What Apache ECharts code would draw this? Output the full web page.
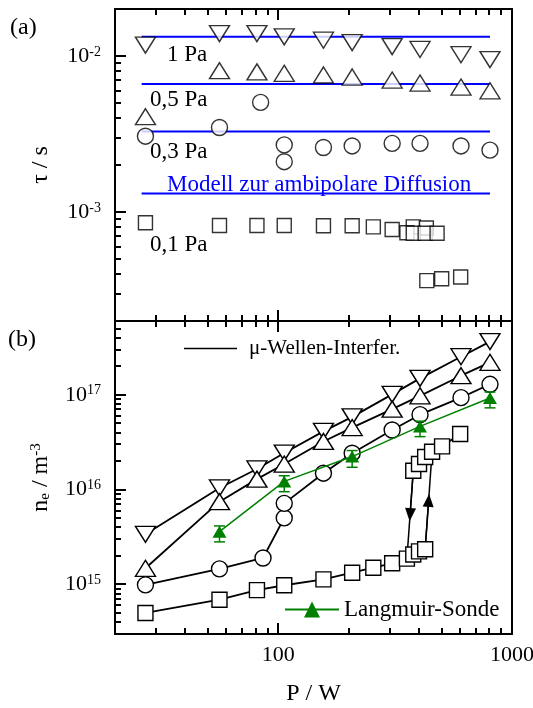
<!DOCTYPE html>
<html><head><meta charset="utf-8">
<script src="https://cdn.jsdelivr.net/npm/echarts@6/dist/echarts.min.js"></script>
<style>html,body{margin:0;padding:0;background:#fff}#c{width:533px;height:708px}</style>
</head><body><div id="c"></div>
<script>
// ---------- DATA ----------
// (a) decay time tau / s
const P_main = [27, 56, 81, 106, 156, 207, 307, 404, 605, 805];
const tau_1Pa  = [0.01173, 0.01391, 0.01391, 0.01325, 0.01262, 0.01218, 0.01148, 0.01101, 0.01019, 0.00947];
const tau_05Pa = [0.00408, 0.00804, 0.00791, 0.00774, 0.00755, 0.00733, 0.00701, 0.00670, 0.00632, 0.00598];
const P_tau03  = [27, 56, 84, 106, 106, 156, 207, 307, 404, 605, 805];
const tau_03Pa = [0.00306, 0.00348, 0.00504, 0.00269, 0.00210, 0.00259, 0.00265, 0.00275, 0.00275, 0.00265, 0.00249];
const P_tau01  = [27, 56, 81, 106, 156, 207, 255, 307, 378, 430, 355, 378, 425, 478, 432, 500, 603];
const tau_01Pa = [0.000852, 0.000818, 0.000818, 0.000818, 0.000815, 0.000815, 0.000803, 0.000772,
                  0.000803, 0.000790, 0.000735, 0.000730, 0.000730, 0.000730, 0.000363, 0.000373, 0.000383];
const modelP   = [26, 805];
const modelTau = [0.0133, 0.0066, 0.00328, 0.001315];
const pressureLabels = ['1 Pa', '0,5 Pa', '0,3 Pa', '0,1 Pa'];
const modelLabel = 'Modell zur ambipolare Diffusion';

// (b) electron density n_e / m^-3 (microwave interferometry)
const ne_1Pa  = [3.38e15, 1.04e16, 1.65e16, 2.43e16, 4.11e16, 5.85e16, 1.01e17, 1.49e17, 2.52e17, 3.64e17];
const ne_05Pa = [1.48e15, 7.46e15, 1.29e16, 1.86e16, 3.22e16, 4.51e16, 7.06e16, 9.75e16, 1.59e17, 2.20e17];
const P_ne03  = [27, 56, 86, 106, 106, 156, 207, 307, 404, 605, 805];
const ne_03Pa = [9.9e14, 1.46e15, 1.90e15, 5.03e15, 7.16e15, 1.49e16, 2.42e16, 4.25e16, 6.17e16, 9.33e16, 1.29e17];
const P_ne01low  = [27, 56, 81, 106, 156, 207, 255, 307, 355, 378, 400, 425];
const ne_01low   = [5.0e14, 6.9e14, 8.7e14, 9.8e14, 1.13e15, 1.33e15, 1.50e15, 1.67e15, 1.87e15, 2.07e15, 2.23e15, 2.35e15];
const P_ne01high = [378, 400, 425, 455, 502, 600];
const ne_01high  = [1.58e16, 1.86e16, 2.21e16, 2.51e16, 2.86e16, 3.86e16];
// Langmuir probe
const P_lang  = [56, 106, 207, 404, 805];
const ne_lang = [3.6e15, 1.22e16, 2.23e16, 4.64e16, 9.25e16];
const ne_langLow  = [2.81e15, 9.5e15, 1.72e16, 3.62e16, 7.28e16];
const ne_langHigh = [4.14e15, 1.40e16, 2.58e16, 5.27e16, 1.07e17];
const legendNames = ['μ-Wellen-Interfer.', 'Langmuir-Sonde'];
const xTickLabels = ['100', '1000'];

// ---------- HELPERS ----------
const FONT = '"Liberation Serif", "Times New Roman", serif';
const X_RANGE = [20, 1000], TAU_RANGE = [2e-4, 2e-2], NE_RANGE = [3e14, 6e17];
const zip = (xs, ys) => xs.map((x, i) => [x, ys[i]]);
const gmean = (a, b) => Math.sqrt(a * b);
function isPow10(v) { const e = Math.log10(v); return Math.abs(e - Math.round(e)) < 1e-6; }
function yLabel(v) { return isPow10(v) ? '{b|10}{s|' + Math.round(Math.log10(v)) + '}' : ''; }
function xLabel(v) { if (!isPow10(v)) return ''; const s = String(Math.round(v)); return xTickLabels.indexOf(s) >= 0 ? s : ''; }
function logTicks(range) {
  const out = [];
  for (let k = Math.floor(Math.log10(range[0])); k <= Math.ceil(Math.log10(range[1])); k++) {
    for (let m = 1; m <= 9; m++) {
      const v = m * Math.pow(10, k);
      if (v >= range[0] * 0.9999 && v <= range[1] * 1.0001) out.push([v, m === 1 ? 1 : 0]);
    }
  }
  return out;
}

const richY = {
  b: { fontSize: 22, fontFamily: FONT, color: '#000' },
  s: { fontSize: 14, fontFamily: FONT, color: '#000', verticalAlign: 'top' }
};
const AXLINE = { show: true, onZero: false, lineStyle: { color: '#000', width: 2 } };

function xAxisDef(gridIndex, position, labels) {
  const a = {
    type: 'log', gridIndex: gridIndex, position: position, min: X_RANGE[0], max: X_RANGE[1],
    axisLine: AXLINE, axisTick: { show: false }, minorTick: { show: false },
    splitLine: { show: false }, minorSplitLine: { show: false },
    axisLabel: { show: labels, formatter: xLabel, fontFamily: FONT, fontSize: 22, color: '#000', margin: 10 }
  };
  if (labels) {
    a.name = 'P / W'; a.nameLocation = 'middle'; a.nameGap = 48;
    a.nameTextStyle = { fontFamily: FONT, fontSize: 24, color: '#000' };
  }
  return a;
}
function yAxisDef(gridIndex, range, name, nameRich) {
  return {
    type: 'log', gridIndex: gridIndex, position: 'left', min: range[0], max: range[1],
    axisLine: AXLINE, axisTick: { show: false }, minorTick: { show: false },
    splitLine: { show: false }, minorSplitLine: { show: false },
    axisLabel: { formatter: yLabel, rich: richY, margin: 14, color: '#000' },
    name: name, nameLocation: 'middle', nameGap: 62,
    nameTextStyle: Object.assign({ fontFamily: FONT, fontSize: 24, color: '#000' }, nameRich ? { rich: nameRich } : {})
  };
}
function yFrameRight(gridIndex, range) {
  return { type: 'log', gridIndex: gridIndex, position: 'right', min: range[0], max: range[1],
    axisLine: AXLINE, axisTick: { show: false }, minorTick: { show: false }, axisLabel: { show: false },
    splitLine: { show: false } };
}

// tick marks as small filled rectangles, placed through the axes' own scales
function tickSeries(xIdx, yIdx, ticks, dir, other) {
  return {
    type: 'custom', name: 'ticks' + dir + xIdx, xAxisIndex: xIdx, yAxisIndex: yIdx, silent: true, z: 20, clip: false,
    data: ticks.map(t => dir === 'x' ? [t[0], other, t[1]] : [other, t[0], t[1]]),
    renderItem: function (params, api) {
      const cs = params.coordSys;
      const p = api.coord([api.value(0), api.value(1)]);
      const major = api.value(2) === 1;
      const len = major ? 11 : 6;
      const w = 2;
      const st = { fill: '#000' };
      if (dir === 'x') {
        const x = Math.round(p[0]) - 1;
        return { type: 'group', children: [
          { type: 'rect', shape: { x: x, y: cs.y, width: w, height: len }, style: { fill: '#000' } },
          { type: 'rect', shape: { x: x, y: cs.y + cs.height - len, width: w, height: len }, style: { fill: '#000' } }
        ] };
      }
      const y = Math.round(p[1]) - 1;
      return { type: 'rect', shape: { x: cs.x, y: y, width: len, height: w }, style: st };
    }
  };
}

const openSym = { color: '#fff', borderColor: '#000', borderWidth: 1.4 };
function scatterTop(name, data, symbol, size, rot) {
  return { type: 'scatter', name: name, xAxisIndex: 0, yAxisIndex: 0, data: data, symbol: symbol,
    symbolSize: size, symbolRotate: rot || 0, itemStyle: openSym, z: 5, silent: true };
}
function lineBottom(name, data, symbol, size, rot, extra) {
  return Object.assign({ type: 'line', name: name, xAxisIndex: 2, yAxisIndex: 1, data: data, symbol: symbol,
    symbolSize: size, symbolRotate: rot || 0, showAllSymbol: true, itemStyle: openSym,
    lineStyle: { color: '#000', width: 1.8 }, z: 5, silent: true }, extra || {});
}

const series = [];
modelTau.forEach((t, i) => {
  series.push({ type: 'line', name: 'model' + i, xAxisIndex: 0, yAxisIndex: 0,
    data: modelP.map(p => [p, t]), symbol: 'none', lineStyle: { color: '#0000ff', width: 2 }, z: 2, silent: true });
});
series.push(scatterTop('tau1', zip(P_main, tau_1Pa), 'triangle', [20, 16], 180));
series.push(scatterTop('tau05', zip(P_main, tau_05Pa), 'triangle', [20, 16], 0));
series.push(scatterTop('tau03', zip(P_tau03, tau_03Pa), 'circle', 16, 0));
series.push(scatterTop('tau01', zip(P_tau01, tau_01Pa), 'rect', 14, 0));

const arrowSeg = (p1, n1, p2, n2) => [
  [{ coord: [p1, n1], symbol: 'none' }, { coord: [p2, n2], symbol: 'none' }],
  [{ coord: [p1, n1], symbol: 'none' }, { coord: [gmean(p1, p2), gmean(n1, n2)], symbol: 'triangle', symbolSize: [11, 13] }]
];
series.push(lineBottom('ne1', zip(P_main, ne_1Pa), 'triangle', [20, 16], 180));
series.push(lineBottom('ne05', zip(P_main, ne_05Pa), 'triangle', [20, 16], 0));
series.push(lineBottom('ne03', zip(P_ne03, ne_03Pa), 'circle', 16, 0));
series.push(lineBottom('ne01low', zip(P_ne01low, ne_01low), 'rect', 15, 0, {
  markLine: {
    silent: true, animation: false, label: { show: false },
    lineStyle: { color: '#000', width: 1.5, type: 'solid' }, itemStyle: { color: '#000' },
    symbol: ['none', 'none'],
    data: [].concat(
      arrowSeg(P_ne01high[0], ne_01high[0], P_ne01low[8], ne_01low[8]),
      arrowSeg(P_ne01low[11], ne_01low[11], P_ne01high[3], ne_01high[3])
    )
  }
}));
series.push(lineBottom('ne01high', zip(P_ne01high, ne_01high), 'rect', 15, 0));
series.push({
  type: 'custom', name: 'err', xAxisIndex: 2, yAxisIndex: 1, z: 6, silent: true,
  data: P_lang.map((p, i) => [p, ne_langLow[i], ne_langHigh[i]]),
  renderItem: function (params, api) {
    const lo = api.coord([api.value(0), api.value(1)]);
    const hi = api.coord([api.value(0), api.value(2)]);
    const w = 5.5;
    const st = { stroke: '#008000', lineWidth: 1.5 };
    return { type: 'group', children: [
      { type: 'line', shape: { x1: lo[0], y1: lo[1], x2: hi[0], y2: hi[1] }, style: st },
      { type: 'line', shape: { x1: lo[0] - w, y1: lo[1], x2: lo[0] + w, y2: lo[1] }, style: st },
      { type: 'line', shape: { x1: hi[0] - w, y1: hi[1], x2: hi[0] + w, y2: hi[1] }, style: st }
    ] };
  }
});
series.push({ type: 'line', name: legendNames[1], xAxisIndex: 2, yAxisIndex: 1, data: zip(P_lang, ne_lang),
  symbol: 'triangle', symbolSize: [14, 12], showAllSymbol: true, itemStyle: { color: '#008000' },
  lineStyle: { color: '#008000', width: 1.5 }, z: 7, silent: true });
series.push({ type: 'line', name: legendNames[0], xAxisIndex: 2, yAxisIndex: 1, data: [], symbol: 'none',
  itemStyle: { color: '#000' }, lineStyle: { color: '#000', width: 1.5 } });
series.push(tickSeries(0, 0, logTicks(X_RANGE), 'x', TAU_RANGE[0]));
series.push(tickSeries(2, 1, logTicks(X_RANGE), 'x', NE_RANGE[0]));
series.push(tickSeries(0, 0, logTicks(TAU_RANGE), 'y', X_RANGE[0]));
series.push(tickSeries(2, 1, logTicks(NE_RANGE), 'y', X_RANGE[0]));

const txt = (text, x, y, size, color) => ({ type: 'text', x: x, y: y,
  style: { text: text, fontFamily: FONT, fontSize: size, fill: color || '#000', verticalAlign: 'middle', align: 'left' } });

const gridBase = { left: 115, right: 21, show: false, containLabel: false,
  outerBounds: { left: -200, right: -200, top: -200, bottom: -200 } };
const option = {
  animation: false,
  backgroundColor: '#fff',
  grid: [
    Object.assign({ top: 9, height: 312 }, gridBase),
    Object.assign({ top: 321, height: 313 }, gridBase)
  ],
  xAxis: [xAxisDef(0, 'bottom', false), xAxisDef(0, 'top', false), xAxisDef(1, 'bottom', true), xAxisDef(1, 'top', false)],
  yAxis: [
    yAxisDef(0, TAU_RANGE, 'τ / s'),
    yAxisDef(1, NE_RANGE, '{n|n}{sub|e}{n| / m}{sup|-3}', {
      n: { fontSize: 24, fontFamily: FONT, color: '#000' },
      sub: { fontSize: 15, fontFamily: FONT, color: '#000', verticalAlign: 'bottom' },
      sup: { fontSize: 15, fontFamily: FONT, color: '#000', verticalAlign: 'top' }
    }),
    yFrameRight(0, TAU_RANGE),
    yFrameRight(1, NE_RANGE)
  ],
  legend: [
    { data: [{ name: legendNames[0], icon: 'rect' }], left: 184, top: 338, padding: 0, itemWidth: 53, itemHeight: 1.6,
      selectedMode: false, itemStyle: { color: '#000', borderWidth: 0 },
      textStyle: { fontFamily: FONT, fontSize: 21, color: '#000', padding: [0, 0, 0, 7] } },
    { data: [legendNames[1]], left: 284, top: 598, padding: 0, itemWidth: 54, itemHeight: 20, selectedMode: false,
      textStyle: { fontFamily: FONT, fontSize: 23, color: '#000' } }
  ],
  graphic: [
    txt('(a)', 10, 28, 24),
    txt('(b)', 8, 340, 24),
    txt(pressureLabels[0], 167, 55, 23),
    txt(pressureLabels[1], 150, 100, 23),
    txt(pressureLabels[2], 150, 152, 23),
    txt(pressureLabels[3], 150, 245, 23),
    txt(modelLabel, 167, 185, 23, '#0000ff')
  ],
  series: series
};
const chart = echarts.init(document.getElementById('c'), null, { renderer: 'canvas' });
chart.setOption(option);
</script>
</body></html>
